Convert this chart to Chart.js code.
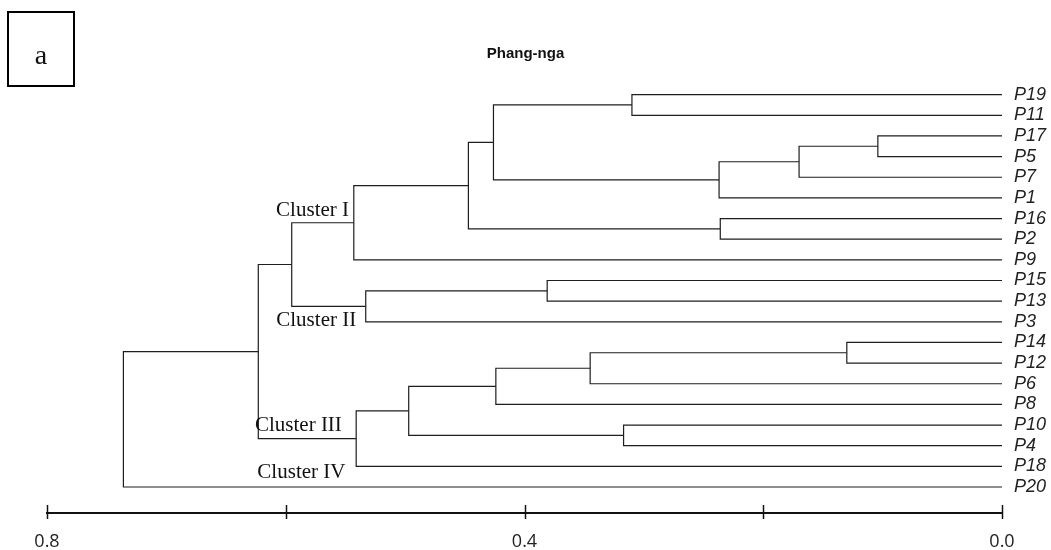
<!DOCTYPE html>
<html>
<head>
<meta charset="utf-8">
<script src="https://cdn.jsdelivr.net/npm/chart.js@4.4.0/dist/chart.umd.min.js"></script>
<style>
  body { margin: 0; background: #fff; }
  #wrap { width: 1051px; height: 550px; }
</style>
</head>
<body>
<div id="wrap"><canvas id="myChart"></canvas></div>
<script>
// leaf order, top to bottom
const leaves = ['P19', 'P11', 'P17', 'P5', 'P7', 'P1', 'P16', 'P2', 'P9', 'P15',
                'P13', 'P3', 'P14', 'P12', 'P6', 'P8', 'P10', 'P4', 'P18', 'P20']

// merges: a string is a leaf, a number is an earlier merge
const mergeA = ['P17', 'P14', 0, 'P16', 2, 'P19', 'P10', 1, 'P15', 7, 5, 10, 9, 11, 8, 12, 13, 16, 17]
const mergeB = ['P5', 'P12', 'P7', 'P2', 'P1', 'P11', 'P4', 'P6', 'P13', 'P8', 4, 3, 6, 'P9', 'P3', 'P18', 14, 15, 'P20']
const mergeHeight = [0.104, 0.130, 0.170, 0.236, 0.237, 0.310, 0.317, 0.345, 0.381, 0.424,
                     0.426, 0.447, 0.497, 0.543, 0.533, 0.541, 0.595, 0.623, 0.736]

const clusterNames = ['Cluster I', 'Cluster II', 'Cluster III', 'Cluster IV']
const clusterX = [0.547, 0.541, 0.553, 0.550]
const clusterY = [5.6, 10.93, 16.01, 18.29]

const tickValues = [0.8, 0.6, 0.4, 0.2, 0.0]
const tickLabels = ['0.8', '', '0.4', '', '0.0']

const panelLetter = 'a'
const chartTitle = 'Phang-nga'

// position of any node: leaves sit at height 0, merges midway between children
const nodePos = (ref) => {
    if (typeof ref === 'string') return {x: 0, y: leaves.indexOf(ref)}
    const a = nodePos(mergeA[ref])
    const b = nodePos(mergeB[ref])
    return {x: mergeHeight[ref], y: (a.y + b.y) / 2}
}

const datasets = mergeHeight.map((h, i) => {
    const a = nodePos(mergeA[i])
    const b = nodePos(mergeB[i])
    return {
        data: [{x: a.x, y: a.y}, {x: h, y: a.y}, {x: h, y: b.y}, {x: b.x, y: b.y}],
        borderColor: '#1e1e1e',
        borderWidth: 1.2,
        pointRadius: 0,
        fill: false,
        tension: 0
    }
})

const labelBox = {
    id: 'labelBox',
    afterDraw(chart) {
        const ctx = chart.ctx
        ctx.save()
        ctx.strokeStyle = '#000'
        ctx.lineWidth = 2
        ctx.strokeRect(8, 12, 66, 74)
        ctx.fillStyle = '#111'
        ctx.font = '28px "Liberation Serif"'
        ctx.textAlign = 'center'
        ctx.textBaseline = 'alphabetic'
        ctx.fillText(panelLetter, 41, 64)
        ctx.restore()
    }
}

const clusterText = {
    id: 'clusterText',
    afterDatasetsDraw(chart) {
        const ctx = chart.ctx
        const xs = chart.scales.x
        const ys = chart.scales.y
        ctx.save()
        ctx.fillStyle = '#111'
        ctx.font = '21px "Liberation Serif"'
        ctx.textAlign = 'right'
        ctx.textBaseline = 'middle'
        clusterNames.forEach((name, i) => {
            ctx.fillText(name, xs.getPixelForValue(clusterX[i]), ys.getPixelForValue(clusterY[i]))
        })
        ctx.restore()
    }
}

// tick marks crossing the axis line
const crossTicks = {
    id: 'crossTicks',
    afterDraw(chart) {
        const ctx = chart.ctx
        const xs = chart.scales.x
        const y0 = chart.chartArea.bottom
        ctx.save()
        ctx.strokeStyle = '#111'
        ctx.lineWidth = 1.5
        tickValues.forEach(v => {
            const px = Math.round(xs.getPixelForValue(v)) + 0.5
            ctx.beginPath()
            ctx.moveTo(px, y0 - 8)
            ctx.lineTo(px, y0 + 6)
            ctx.stroke()
        })
        ctx.restore()
    }
}

var ctx = document.getElementById('myChart').getContext('2d');
var myChart = new Chart(ctx, {
    type: 'line',
    data: { datasets: datasets },
    plugins: [labelBox, clusterText, crossTicks],
    options: {
        responsive: true,
        maintainAspectRatio: false,
        animation: false,
        layout: { padding: 0 },
        plugins: {
            legend: { display: false },
            tooltip: { enabled: false },
            title: {
                display: true,
                text: chartTitle,
                color: '#111',
                font: { family: '"Liberation Sans", Arial', size: 15, weight: 'bold' },
                padding: { top: 45, bottom: 11 }
            }
        },
        scales: {
            x: {
                type: 'linear',
                reverse: true,
                min: 0,
                max: 0.8,
                afterBuildTicks: s => { s.ticks = tickValues.map(v => ({value: v})) },
                afterFit: s => { s.height = 37 },
                grid: { display: false },
                border: { display: true, color: '#111', width: 2 },
                ticks: {
                    autoSkip: false,
                    maxRotation: 0,
                    padding: 10,
                    color: '#222',
                    font: { family: '"Open Sans"', size: 18 },
                    callback: (v, i) => tickLabels[i]
                }
            },
            y: {
                type: 'linear',
                position: 'right',
                reverse: true,
                min: -1,
                max: leaves.length + 0.26,
                afterBuildTicks: s => { s.ticks = leaves.map((_, i) => ({value: i})) },
                afterFit: s => { s.width = 49 },
                grid: { display: false },
                border: { display: false },
                ticks: {
                    autoSkip: false,
                    padding: 4,
                    color: '#222',
                    font: { family: '"Liberation Sans", Arial', size: 18, style: 'italic' },
                    callback: (v) => leaves[v]
                }
            },
            yl: {
                type: 'linear',
                position: 'left',
                afterFit: s => { s.width = 47 },
                grid: { display: false },
                border: { display: false },
                ticks: { display: false }
            }
        }
    }
});
</script>
</body>
</html>
